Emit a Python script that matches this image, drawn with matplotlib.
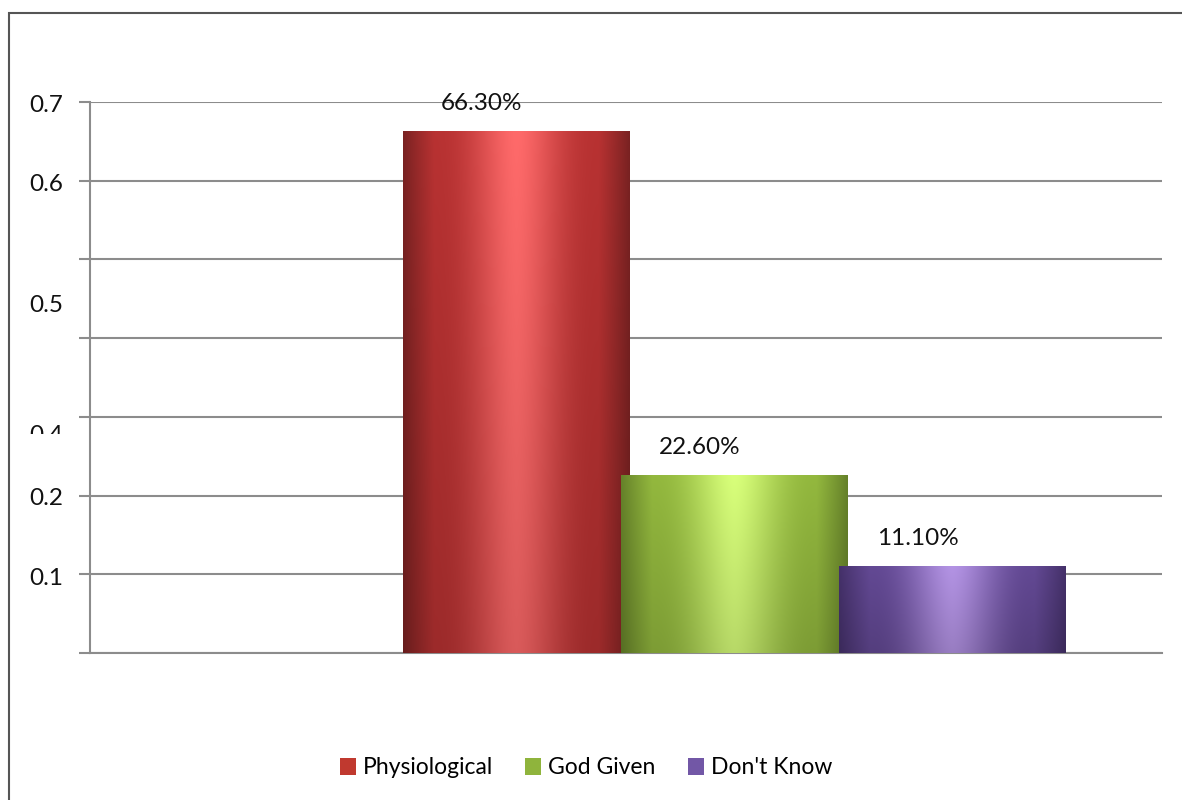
import numpy as np
import matplotlib
matplotlib.use("Agg")
import matplotlib.pyplot as plt
from matplotlib.patches import Rectangle, Patch
from matplotlib.colors import to_rgb
from matplotlib.transforms import Bbox

plt.rcParams['font.family'] = ['Lato', 'DejaVu Sans']

# data
categories = ["Physiological", "God Given", "Don't Know"]
values = [0.663, 0.226, 0.111]
value_labels = ["66.30%", "22.60%", "11.10%"]
# the axis labels in the source sit at odd heights (one is cut off)
tick_texts = ["0.7", "0.6", "0.5", "0.4", "0.2", "0.1"]
tick_text_y = [0.696, 0.595, 0.441, 0.276, 0.196, 0.095]

# (edge, body, highlight) for the cylinder shading
shades = [("#7a2222", "#b83232", "#ff6a6a"),
          ("#66822a", "#93b83e", "#d8ff7a"),
          ("#45316a", "#634994", "#b393e4")]
legend_colors = ["#c0392f", "#8fb43c", "#7257a6"]

fig = plt.figure(figsize=(11.82, 8), dpi=100)
ax = fig.add_axes([90 / 1182, 1 - 653 / 800, 1072 / 1182, 551 / 800])

x = np.arange(len(categories))
width = 1.04
bars = ax.bar(x, values, width, color='none', edgecolor='none')

# horizontal shading profile: dark edges, bright middle
u = np.linspace(-1, 1, 200)
t = np.clip(1 - np.abs(u) ** 1.6, 0, 1)
for i, (patch, (c_edge, c_body, c_hi)) in enumerate(zip(bars, shades)):
    e, b, h = np.array(to_rgb(c_edge)), np.array(to_rgb(c_body)), np.array(to_rgb(c_hi))
    row = np.where(t[:, None] < 0.4, e + (b - e) * (t[:, None] / 0.4),
                   b + (h - b) * ((t[:, None] - 0.4) / 0.6) ** 2.5)
    vert = np.linspace(0.85, 1.0, 60)[:, None, None]
    img = np.clip(row[None, :, :] * vert, 0, 1)
    x0 = patch.get_x()
    im = ax.imshow(img, extent=[x0, x0 + patch.get_width(), 0, patch.get_height()],
                   origin='lower', aspect='auto', zorder=3 + i, interpolation='bilinear')
    im.set_clip_path(patch)

for xi, v, lab in zip(x, values, value_labels):
    ax.text(xi - 0.16, v + 0.035, lab, ha='center', va='center', fontsize=17.5, color='#111111')

ax.set_xlim(-1.956, 2.961)
ax.set_ylim(0, 0.7)
ax.set_yticks(np.arange(0, 0.71, 0.1))
ax.set_yticklabels([])
ax.set_xticks([])
ax.tick_params(axis='y', length=8, width=1.5, color='#8c8c8c', direction='out')
ax.yaxis.grid(True, color='#8c8c8c', linewidth=1.5)
ax.set_axisbelow(True)
for s in ['top', 'right']:
    ax.spines[s].set_visible(False)
for s in ['left', 'bottom']:
    ax.spines[s].set_color('#8c8c8c')
    ax.spines[s].set_linewidth(1.5)

ytrans = ax.get_yaxis_transform()
for lab, yy in zip(tick_texts, tick_text_y):
    txt = ax.text(-0.0252, yy, lab, transform=ytrans, ha='right', va='center',
                  fontsize=17.5, color='#111111', clip_on=False)
    if lab == "0.4":
        # cut off like in the original
        txt.set_clip_on(True)
        txt.set_clip_box(Bbox([[0, 800 - 434], [200, 800]]))

handles = [Patch(facecolor=c, edgecolor='none') for c in legend_colors]
fig.legend(handles, categories, loc='center', bbox_to_anchor=(586 / 1182, 0.04),
           ncol=3, frameon=False, fontsize=16.5, handlelength=0.7, handleheight=0.7,
           handletextpad=0.3, columnspacing=1.4)

# outer chart border (only top and left edges fall inside the image)
fig.add_artist(Rectangle((9 / 1182, -0.05), 1.2, 1 - 13 / 800 + 0.05, transform=fig.transFigure,
                         fill=False, edgecolor='#555555', linewidth=1.5))

fig.savefig("out.png", dpi=100)
